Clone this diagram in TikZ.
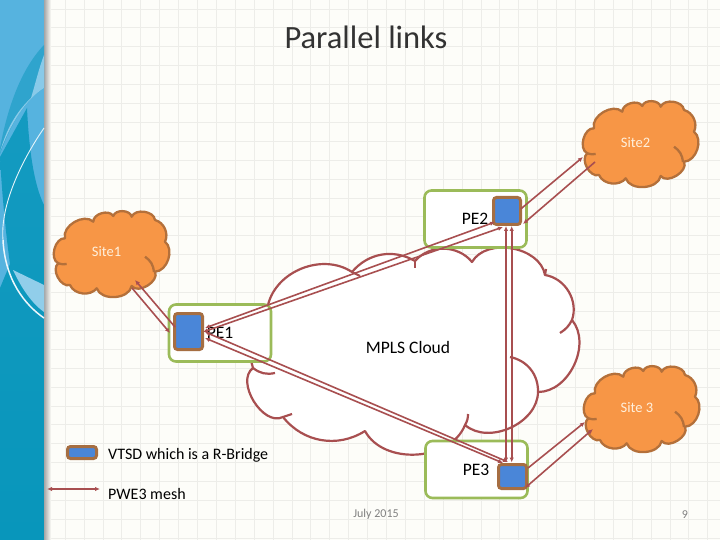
\documentclass[tikz,border=0pt]{standalone}
\usepackage{fontspec}
\setmainfont{Carlito}
\usepackage{tikz}
\usetikzlibrary{calc,positioning}
\usetikzlibrary{arrows.meta}
\tikzset{>={Latex[width=4.5pt,length=5pt]}}
\definecolor{pagebg}{HTML}{FDFDF9}
\definecolor{gridc}{HTML}{EDEDE9}
\definecolor{stripa}{HTML}{56B3DF}
\definecolor{stripb}{HTML}{0896BB}
\definecolor{linkc}{HTML}{A84F50}
\definecolor{sitef}{HTML}{F79646}
\definecolor{sited}{HTML}{B4703A}
\definecolor{vtsdf}{HTML}{4A86D8}
\definecolor{vtsdd}{HTML}{A66E42}
\definecolor{boxc}{HTML}{9BBB59}
\definecolor{dategray}{HTML}{808080}
\definecolor{sitetext}{HTML}{FFF0DC}
\tikzset{sitecloud/.pic={
  \draw[sited, fill=sitef, line width=2.3pt, line join=round]
    (12,30.3) to[bend left=75] (40.3,13.7) to[bend left=75] (60.3,8)
    to[bend left=75] (78.7,8.7) to[bend left=75] (102,12)
    to[bend left=50] (112,33.7) to[bend left=70] (102,63.7)
    to[bend left=85] (78.7,78) to[bend left=75] (43.7,80.3)
    to[bend left=60] (17,77) to[bend left=80] (5.3,55.3)
    to[bend left=80] cycle;
  \draw[sited, line width=2.3pt] (92,48.7) to[bend left=25] (101,64);
  \draw[sited, line width=2.3pt] (5.3,55.3) to[bend right=15] (13.7,56);
}}
\begin{document}
\begin{tikzpicture}[x=1pt,y=-1pt]
      \tikzstyle{vtsd} = [draw=vtsdd, fill=vtsdf, line width=3pt, rectangle, rounded corners=3pt, inner sep=0pt, outer sep=0pt]
      \tikzstyle{pebox} = [draw=boxc, fill=white, line width=2.6pt, rectangle, rounded corners=7pt, inner sep=0pt, outer sep=0pt, minimum width=102pt]
      \tikzstyle{sitenode} = [inner sep=0pt, outer sep=0pt, text=sitetext, font=\fontsize{14.5}{17}\selectfont]
      \tikzstyle{lbl} = [inner sep=0pt, font=\fontsize{17.5}{20}\selectfont]
      \tikzstyle{link} = [linkc, line width=1.6pt]
      \tikzstyle{cloudedge} = [linkc, line width=2.2pt]

      \useasboundingbox (0,0) rectangle (720,540);
      \fill[pagebg] (0,0) rectangle (720,540);

      % grid of the slide
      \foreach \i in {0,...,35} {
        \draw[gridc, line width=0.8pt] (46.2+18.9*\i,0) -- (46.2+18.9*\i,540);
      }
      \foreach \j in {0,...,28} {
        \draw[gridc, line width=0.8pt] (44,9+18.9*\j) -- (720,9+18.9*\j);
      }

      % left strip
      \shade[left color=black!35, right color=pagebg] (44,0) rectangle (51,540);
      \fill[stripa] (0,0) rectangle (44,540);
      \shade[top color=stripa!15!stripb, bottom color=stripb] (27,108) .. controls (29,150) and (34,185) .. (44,205) -- (44,540) -- (0,540) -- (0,288) -- (10,264) .. controls (6,235) and (2,195) .. (0,157) -- cycle;
      \fill[stripa!50!stripb] (44,45) .. controls (22,68) and (8,105) .. (0,148) -- (0,154) .. controls (10,125) and (25,100) .. (44,88) -- cycle;
      \fill[stripa!70!white] (44,55) .. controls (39,68) and (35,85) .. (31,98) .. controls (16,112) and (6,130) .. (0,152) .. controls (10,125) and (25,100) .. (44,88) -- cycle;
      \fill[stripa!65!white] (13,270) -- (44,285) -- (44,312) .. controls (30,302) and (20,285) .. (13,270) -- cycle;
      \draw[white!85!stripa, line width=0.9pt] (44,128) .. controls (22,160) and (0,205) .. (3,240);
      \draw[white!90!stripa, line width=1.5pt] (3,240) .. controls (5,280) and (25,305) .. (44,318);

      % MPLS cloud
      \path[cloudedge, draw, fill=white, line join=round]
        (268,305) to[bend left=55] (352,272) to[bend left=40] (415,261)
        to[bend left=50] (472,262) to[bend left=70] (545,275)
        to[bend left=50] (572,320) to[bend left=65] (538,392)
        to[bend left=65] (465,425) to[bend left=65] (365,431)
        to[bend left=42] (283,417) to[bend left=85] (253,368)
        to[bend left=30] cycle;
      \draw[cloudedge] (352,272) -- (360,276);
      \draw[cloudedge] (415,261) -- (415,268);
      \draw[cloudedge] (510,357) to[bend left=40] (538,392);
      \draw[cloudedge] (468,414) to[bend left=15] (465,425);
      \draw[cloudedge] (283,417) -- (292,414);
      \draw[cloudedge] (560,333) to[bend right=15] (572,320);
      \draw[cloudedge] (253,368) to[bend right=25] (275,373);
      \draw[cloudedge] (545,275) -- (546,269);

      \node[lbl] (mpls) at (408,347) {MPLS Cloud};

      % PE boxes
      \node[pebox, minimum height=57pt] (pe1box) at (220,333) {};
      \node[pebox, minimum height=57pt] (pe2box) at (475.5,219) {};
      \node[pebox, minimum height=57pt] (pe3box) at (476.5,469.5) {};

      \pic at (53,208) {sitecloud};
      \pic at (582,98) {sitecloud};
      \pic at (583,363) {sitecloud};
      \node[sitenode] (site1) at (106.5,252) {Site1};
      \node[sitenode] (site2) at (635.5,143) {Site2};
      \node[sitenode] (site3) at (637,407.5) {Site 3};

      \node[lbl] (pe1) at (220,333) {PE1};
      \node[lbl] (pe2) at (475,219) {PE2};
      \node[lbl] (pe3) at (476,470) {PE3};

      \node[vtsd, minimum width=28pt, minimum height=36pt] (v1) at (188.5,331.5) {};
      \node[vtsd, minimum width=27pt, minimum height=27pt] (v2) at (507,211) {};
      \node[vtsd, minimum width=28pt, minimum height=24pt] (v3) at (512.5,476.5) {};

      % links to the sites
      \draw[link,->] ([shift={(-13.5,-4.5)}]v1.center) -- ([shift={(28.5,28)}]site1.center);
      \draw[link,->] ([shift={(25.5,36)}]site1.center) -- ([shift={(-18.5,1.5)}]v1.center);
      \draw[link,->] ([shift={(13.7,-2)}]v2.center) -- ([shift={(-52.5,14)}]site2.center);
      \draw[link,->] ([shift={(-40.5,19)}]site2.center) -- ([shift={(16,13)}]v2.center);
      \draw[link,->] ([shift={(15.5,-8.5)}]v3.center) -- ([shift={(-52,14.5)}]site3.center);
      \draw[link,<->] ([shift={(12.5,11.5)}]v3.center) -- ([shift={(-44,21.5)}]site3.center);

      % PWE3 mesh
      \draw[link,<->] ([shift={(16.5,-3.5)}]v1.center) -- ([shift={(-12,11)}]v2.center);
      \draw[link,<->] ([shift={(14.5,0.5)}]v1.center) -- ([shift={(-4,16)}]v2.center);
      \draw[link,<->] ([shift={(16.5,0.5)}]v1.center) -- ([shift={(-4.5,-14.5)}]v3.center);
      \draw[link,<->] ([shift={(16.5,6.5)}]v1.center) -- ([shift={(-9.5,-13.5)}]v3.center);
      \draw[link,<->] ([shift={(-1,15)}]v2.center) -- ([shift={(-6.5,-14)}]v3.center);
      \draw[link,<->] ([shift={(4.7,15)}]v2.center) -- ([shift={(-0.8,-14)}]v3.center);

      % legend
      \node[vtsd, minimum width=29pt, minimum height=12pt] (legvtsd) at (82,452.5) {};
      \node[inner sep=0pt, anchor=west, font=\fontsize{16}{19}\selectfont] (legv) at (108,455.5) {VTSD which is a R-Bridge};
      \coordinate (lega) at (47,489);
      \coordinate (legb) at (100,489);
      \draw[link,<->] (lega) -- (legb);
      \node[inner sep=0pt, anchor=west, font=\fontsize{16}{19}\selectfont] (legp) at (108,494) {PWE3 mesh};

      \node[inner sep=0pt, text=black!80, font=\fontsize{32.5}{38}\selectfont] (title) at (366,37) {Parallel links};
      \node[inner sep=0pt, text=dategray, font=\fontsize{12}{14}\selectfont] (date) at (376,514.5) {July 2015};
      \node[inner sep=0pt, text=dategray, font=\fontsize{12}{14}\selectfont] (page) at (685,514.5) {9};
\end{tikzpicture}
\end{document}
